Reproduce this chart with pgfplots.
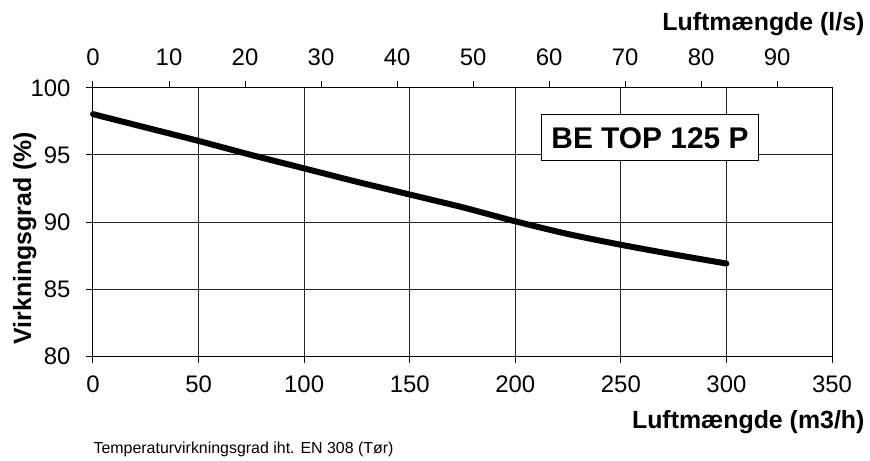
\documentclass[border=0pt]{standalone}
\usepackage{fontspec}
\setmainfont{Liberation Sans}
\usepackage{pgfplots}
\pgfplotsset{compat=1.18}

\pgfplotstableread{
x     y
0     98.05
25    97.05
50    96.05
75    95.00
100   94.00
125   93.00
150   92.05
175   91.10
200   90.05
225   89.10
250   88.30
275   87.58
300   86.90
}\effdata

\newcommand{\tickfont}{\fontsize{24}{24}\selectfont}
\newcommand{\labfont}{\fontsize{25}{25}\selectfont\bfseries}

\begin{document}
\begin{tikzpicture}
  % main axis: m3/h
  \begin{axis}[
      at={(0,0)}, anchor=south west,
      scale only axis,
      width=739bp, height=268bp,
      xmin=0, xmax=350, ymin=80, ymax=100,
      xtick={0,50,...,350}, ytick={80,85,...,100},
      xtick pos=left, ytick pos=left,
      tick align=outside,
      major tick length=7bp,
      grid=major,
      major grid style={line width=1bp, draw=black!85},
      axis line style={line width=1bp, black},
      tick style={line width=1bp, black},
      ticklabel style={font=\tickfont},
      /pgf/number format/assume math mode=true,
      xticklabel style={yshift=-9bp},
      yticklabel style={xshift=-12bp},
      clip=false,
    ]
    \addplot[black, line width=6bp, line cap=round, line join=round, smooth, tension=0.4]
      table[x=x, y=y] {\effdata};

    \node[draw=black, line width=1bp, fill=white, font=\fontsize{30}{30}\selectfont\bfseries,
          inner xsep=10bp, inner ysep=0pt, minimum height=46bp]
      at (axis cs:263.8,96.27) {BE TOP 125 P};

    \node[anchor=base east, font=\labfont] at (axis description cs:1.0487,-0.2687) {Luftmængde (m3/h)};
    \node[anchor=base east, font=\labfont] at (axis description cs:1.0487,1.2164) {Luftmængde (l/s)};
    \node[anchor=base, rotate=90, font=\labfont] at (axis description cs:-0.0839,0.44) {Virkningsgrad (\%)};
    \node[anchor=base west, font=\fontsize{16}{16}\selectfont] at (axis description cs:-0.004,-0.362)
      {Temperaturvirkningsgrad iht. EN 308 (Tør)};
  \end{axis}

  % secondary top axis: l/s
  \begin{axis}[
      at={(0,0)}, anchor=south west,
      scale only axis,
      width=739bp, height=268bp,
      xmin=0, xmax=97.2222, ymin=80, ymax=100,
      axis x line*=top,
      axis line style={draw=none},
      hide y axis,
      xtick={0,10,...,90},
      tick align=outside,
      major tick length=7bp,
      tick style={line width=1bp, black},
      ticklabel style={font=\tickfont},
      /pgf/number format/assume math mode=true,
      xticklabel style={yshift=12bp},
    ]
  \end{axis}

  \pgfresetboundingbox
  \path (-93bp,-105bp) rectangle (777bp,356bp);
\end{tikzpicture}
\end{document}
